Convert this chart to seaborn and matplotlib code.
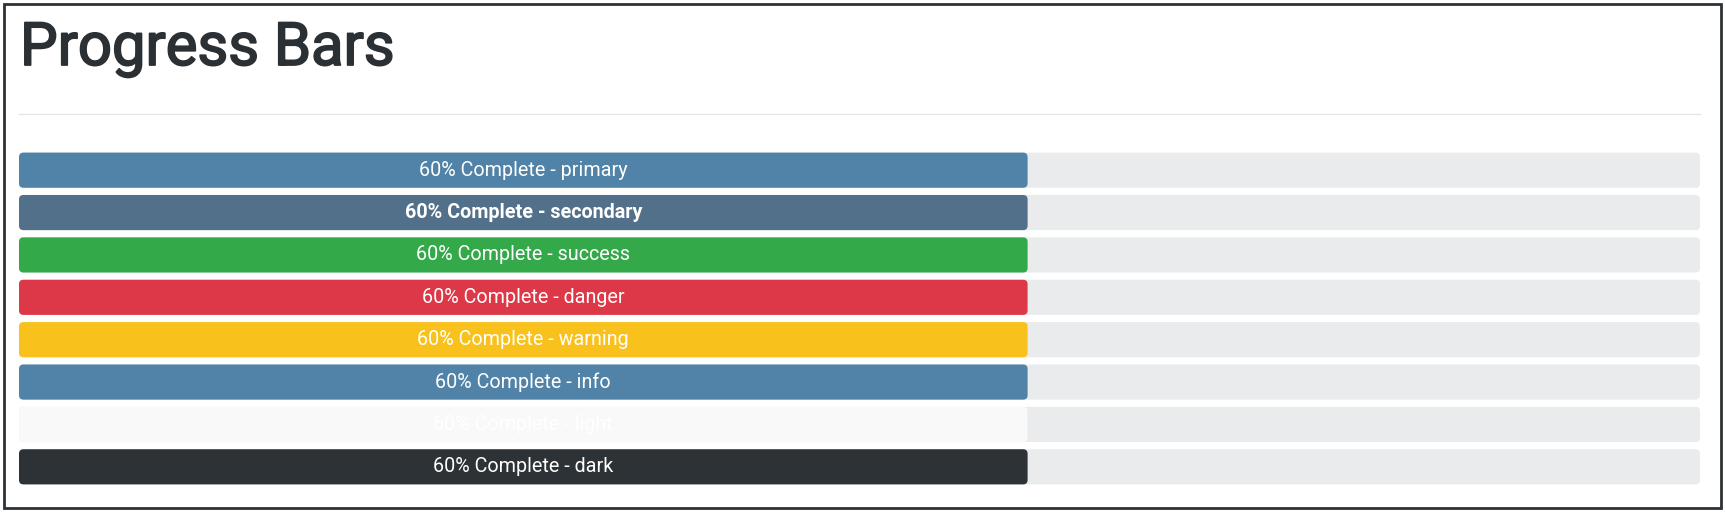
import pandas as pd
import seaborn as sns
import matplotlib.pyplot as plt
import matplotlib.patheffects as pe
from matplotlib.patches import FancyBboxPatch, Rectangle
from matplotlib.lines import Line2D

# data
variants = ['primary', 'secondary', 'success', 'danger', 'warning', 'info', 'light', 'dark']
progress = [60, 60, 60, 60, 60, 60, 60, 60]
track = [100, 100, 100, 100, 100, 100, 100, 100]
bar_colors = ['#5083a7', '#52708a', '#34a94a', '#dd3847', '#f8c11b', '#5083a7', '#f9f9f9', '#2d3236']
title = 'Progress Bars'

df = pd.DataFrame({'variant': variants, 'progress': progress, 'track': track})
df['label'] = [f'{p}% Complete - {v}' for p, v in zip(progress, variants)]

sns.set_theme(style='white')
plt.rcParams['font.family'] = ['Roboto', 'DejaVu Sans']

fig = plt.figure(figsize=(17.25, 5.12), dpi=100)
W, H = 1725, 512

# outer frame
fig.add_artist(Rectangle((4 / W, 4 / H), 1 - 8 / W, 1 - 8 / H, transform=fig.transFigure,
                         fill=False, edgecolor='#2d3236', linewidth=2))

# medium-weight heading: regular face thickened a little
fig.text(20 / W, 1 - 65 / H, title, fontsize=43, color='#2b3035',
         ha='left', va='baseline',
         path_effects=[pe.withStroke(linewidth=1.3, foreground='#2b3035')])
fig.add_artist(Line2D([19 / W, 1700 / W], [1 - 114 / H] * 2, transform=fig.transFigure,
                      color='#e5e6e8', linewidth=1))

ax = fig.add_axes([19 / W, 1 - 488 / H, (1700 - 19) / W, 339 / H])

sns.barplot(data=df, x='track', y='variant', color='#eaebed', width=0.83, ax=ax,
            saturation=1, linewidth=0)
sns.barplot(data=df, x='progress', y='variant', hue='variant', palette=bar_colors,
            width=0.83, ax=ax, saturation=1, linewidth=0, legend=False)

ax.set_xlim(0, 100)
ax.set_ylim(7.5, -0.5)
ax.axis('off')

# round the bar corners (bootstrap radius)
fig.canvas.draw()
px_x = 1 / (ax.transData.transform((1, 0))[0] - ax.transData.transform((0, 0))[0])
px_y = 1 / abs(ax.transData.transform((0, 1))[1] - ax.transData.transform((0, 0))[1])
radius = 4.5 * px_x
for p in list(ax.patches):
    x0, y0, w, h = p.get_x(), p.get_y(), p.get_width(), p.get_height()
    fc = p.get_facecolor()
    p.remove()
    ax.add_patch(FancyBboxPatch((x0, y0), w, h,
                                boxstyle=f'round,pad=0,rounding_size={radius}',
                                mutation_aspect=px_y / px_x, facecolor=fc,
                                edgecolor='none', linewidth=0))

for i, row in df.iterrows():
    ax.text(row['progress'] / 2, i, row['label'], ha='center', va='center',
            color='white', fontsize=14.2,
            fontweight='bold' if row['variant'] == 'secondary' else 'normal')

fig.savefig('out.png', dpi=100)
